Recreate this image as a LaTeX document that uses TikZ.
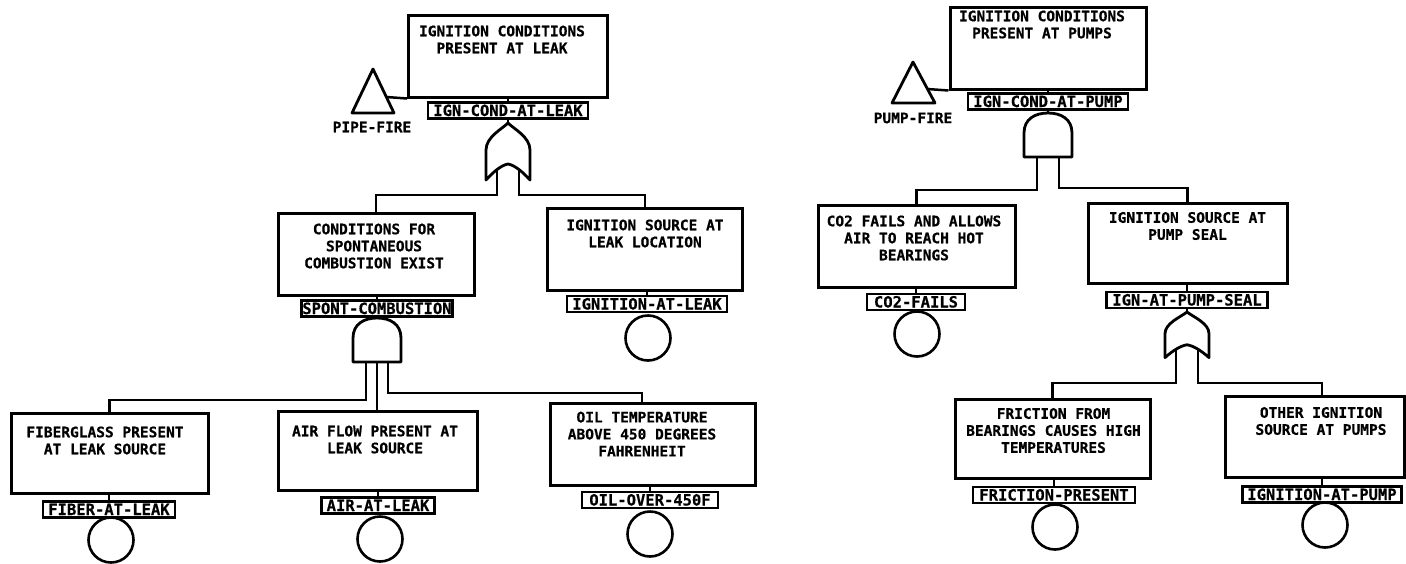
\documentclass[tikz,border=0pt]{standalone}
\usepackage{fontspec}
\newfontfamily\plotfont{DejaVu Sans Mono}[BoldFeatures={FakeBold=0.6}]
\tikzset{
  gateline/.style={line width=2.8pt, line join=round},
  evbox/.style={draw, line width=3pt, inner sep=0pt},
  evtext/.style={font=\plotfont\bfseries\fontsize{14.5}{17}\selectfont, align=center, inner sep=0pt},
  lbl/.style={draw, line width=2.6pt, inner xsep=0pt, inner ysep=2.5pt, text height=11pt, text depth=0pt,
              font=\plotfont\bfseries\fontsize{15.5}{17}\selectfont},
  basic/.style={draw, circle, line width=2.6pt, minimum size=45pt, inner sep=0pt},
  conn/.style={line width=2.5pt},
  orgate/.pic={
    \draw[gateline] (0,0) .. controls (6,-6) and (22,-14) .. (22,-27) -- (22,-57)
       .. controls (14,-48) and (6,-42) .. (0,-41)
       .. controls (-6,-42) and (-14,-48) .. (-22,-57) -- (-22,-27)
       .. controls (-22,-14) and (-6,-6) .. (0,0) -- cycle;
    \coordinate (-top) at (0,0);
    \coordinate (-inL) at (-11,-47.3);
    \coordinate (-inR) at (11,-47.3);
  },
  andgate/.pic={
    \draw[gateline] (-24,-44) -- (-24,-20) .. controls (-24,-6) and (-13,0) .. (0,0)
       .. controls (13,0) and (24,-6) .. (24,-20) -- (24,-44) -- cycle;
    \coordinate (-top) at (0,0);
    \coordinate (-inL) at (-11,-44);
    \coordinate (-inM) at (0,-44);
    \coordinate (-inR) at (11,-44);
  }
}
\begin{document}
\begin{tikzpicture}[x=1pt,y=1pt]
\useasboundingbox (0,0) rectangle (1406,-563);

% ================= LEFT TREE =================
\node[evbox, minimum width=199, minimum height=82] (T1) at (508,-56) {};
\node[evtext] (T1t) at (502,-39.5) {IGNITION CONDITIONS\\PRESENT AT LEAK};
\node[lbl, minimum width=160] (L1) at (508,-110.5) {IGN-COND-AT-LEAK};
\draw[gateline] (352,-113) -- (373,-69) -- (394,-113) -- cycle;
\coordinate (pf) at (386.4,-97);
\node[evtext] (pft) at (372,-127) {PIPE-FIRE};
\draw[conn] (pf) -- (T1.south west);
\draw[conn] (L1.north) -- (L1.north |- T1.south);
\pic (g1) at (508,-123) {orgate};
\draw[conn] (L1.south) -- (g1-top);

\node[evbox, minimum width=196, minimum height=82] (B2) at (376,-254) {};
\node[evtext] (B2t) at (374,-246) {CONDITIONS FOR\\SPONTANEOUS\\COMBUSTION EXIST};
\node[lbl, minimum width=151] (L2) at (377,-308.5) {SPONT-COMBUSTION};
\draw[conn] (L2.north) -- (L2.north |- B2.south);
\pic (g2) at (377,-318) {andgate};
\draw[conn] (L2.south) -- (g2-top);

\node[evbox, minimum width=195, minimum height=82] (B3) at (645,-249) {};
\node[evtext] (B3t) at (645,-233.5) {IGNITION SOURCE AT\\LEAK LOCATION};
\node[lbl, minimum width=160] (L3) at (647,-304) {IGNITION-AT-LEAK};
\draw[conn] (L3.north) -- (L3.north |- B3.south);
\node[basic] (C3) at (648,-338) {};

\draw[conn] (g1-inL) -- ++(0,-24.7) -| (B2.north);
\draw[conn] (g1-inR) -- ++(0,-24.7) -| (B3.north);

\node[evbox, minimum width=197, minimum height=80] (B4) at (109.5,-453) {};
\node[evtext] (B4t) at (105,-440.5) {FIBERGLASS PRESENT\\AT LEAK SOURCE};
\node[lbl, minimum width=132] (L4) at (109,-509.5) {FIBER-AT-LEAK};
\draw[conn] (L4.north) -- (L4.north |- B4.south);
\node[basic] (C4) at (111,-540) {};

\node[evbox, minimum width=199, minimum height=79] (B5) at (377.5,-450.5) {};
\node[evtext] (B5t) at (375,-439.5) {AIR FLOW PRESENT AT\\LEAK SOURCE};
\node[lbl, minimum width=113] (L5) at (378,-505.5) {AIR-AT-LEAK};
\draw[conn] (L5.north) -- (L5.north |- B5.south);
\node[basic] (C5) at (380,-539) {};

\node[evbox, minimum width=205, minimum height=82] (B6) at (652.5,-444) {};
\node[evtext] (B6t) at (642,-434) {OIL TEMPERATURE\\ABOVE 450 DEGREES\\FAHRENHEIT};
\node[lbl, minimum width=136] (L6) at (650,-500) {OIL-OVER-450F};
\draw[conn] (L6.north) -- (L6.north |- B6.south);
\node[basic] (C6) at (650,-534) {};

\draw[conn] (g2-inL) -- ++(0,-38) -| (B4.north);
\draw[conn] (g2-inM) -- (g2-inM |- B5.north);
\draw[conn] (g2-inR) -- ++(0,-31) -| (B6t.center |- B6.north);

% ================= RIGHT TREE =================
\node[evbox, minimum width=196, minimum height=82] (T2) at (1048,-48) {};
\node[evtext] (T2t) at (1042,-24.5) {IGNITION CONDITIONS\\PRESENT AT PUMPS};
\node[lbl, minimum width=160] (L7) at (1048,-101.5) {IGN-COND-AT-PUMP};
\draw[gateline] (892,-103) -- (913,-62) -- (935,-103) -- cycle;
\coordinate (pu) at (927.2,-89);
\node[evtext] (put) at (913,-118) {PUMP-FIRE};
\draw[conn] (pu) -- (T2.south west);
\draw[conn] (L7.north) -- (L7.north |- T2.south);
\pic (g3) at (1048,-113) {andgate};
\draw[conn] (L7.south) -- (g3-top);

\node[evbox, minimum width=197, minimum height=82] (B8) at (916.5,-246) {};
\node[evtext] (B8t) at (914,-238) {CO2 FAILS AND ALLOWS\\AIR TO REACH HOT\\BEARINGS};
\node[lbl, minimum width=98] (L8) at (916,-302) {CO2-FAILS};
\draw[conn] (L8.north) -- (L8.north |- B8.south);
\node[basic] (C8) at (917,-334) {};

\node[evbox, minimum width=199, minimum height=80] (B9) at (1187.5,-243) {};
\node[evtext] (B9t) at (1187.5,-226) {IGNITION SOURCE AT\\PUMP SEAL};
\node[lbl, minimum width=161] (L9) at (1187,-300) {IGN-AT-PUMP-SEAL};
\draw[conn] (L9.north) -- (L9.north |- B9.south);
\pic[yscale=0.8] (g4) at (1187,-312) {orgate};
\draw[conn] (L9.south) -- (g4-top);

\draw[conn] (g3-inL) -- ++(0,-33) -| (B8.north);
\draw[conn] (g3-inR) -- ++(0,-31) -| (B9.north);

\node[evbox, minimum width=195, minimum height=79] (B10) at (1052.5,-438.5) {};
\node[evtext] (B10t) at (1053.5,-430.5) {FRICTION FROM\\BEARINGS CAUSES HIGH\\TEMPERATURES};
\node[lbl, minimum width=162] (L10) at (1054,-495) {FRICTION-PRESENT};
\draw[conn] (L10.north) -- (L10.north |- B10.south);
\node[basic] (C10) at (1055,-527) {};

\node[evbox, minimum width=179, minimum height=81] (B11) at (1314.5,-436.5) {};
\node[evtext] (B11t) at (1321,-421) {OTHER IGNITION\\SOURCE AT PUMPS};
\node[lbl, minimum width=159] (L11) at (1322,-494.5) {IGNITION-AT-PUMP};
\draw[conn] (L11.north) -- (L11.north |- B11.south);
\node[basic] (C11) at (1325,-525) {};

\draw[conn] (g4-inL) -- ++(0,-33.4) -| (B10.north);
\draw[conn] (g4-inR) -- ++(0,-33.4) -| (L11.north |- B11.north);
\end{tikzpicture}
\end{document}
